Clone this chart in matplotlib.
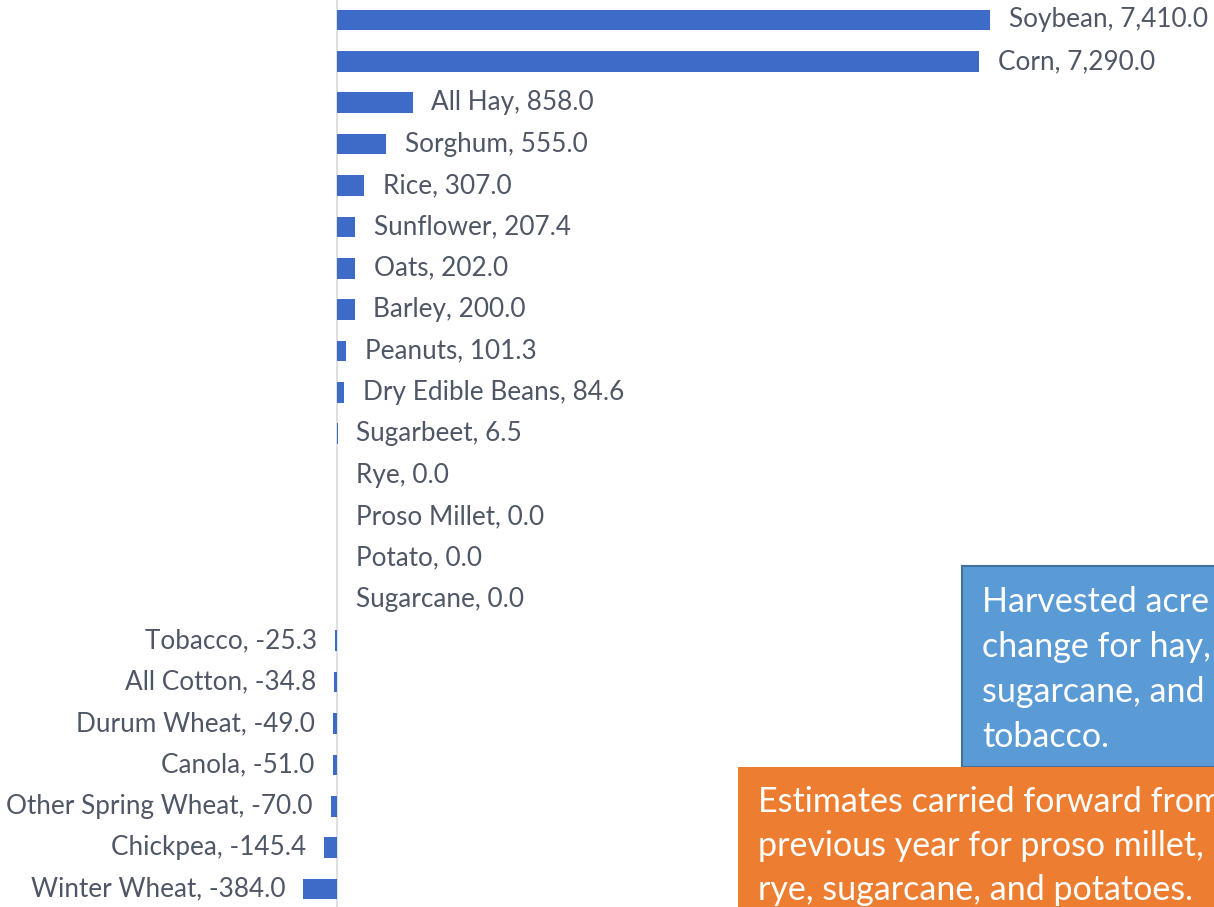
#!/usr/bin/env python3
"""Horizontal bar chart of acreage change by crop, with two note boxes."""
import matplotlib
matplotlib.use("Agg")
import matplotlib.pyplot as plt
from matplotlib.patches import Rectangle

# ---------------------------------------------------------------------------
# Data
# ---------------------------------------------------------------------------
crops = [
    "Soybean", "Corn", "All Hay", "Sorghum", "Rice", "Sunflower", "Oats",
    "Barley", "Peanuts", "Dry Edible Beans", "Sugarbeet", "Rye",
    "Proso Millet", "Potato", "Sugarcane", "Tobacco", "All Cotton",
    "Durum Wheat", "Canola", "Other Spring Wheat", "Chickpea", "Winter Wheat",
]
change = [
    7410.0, 7290.0, 858.0, 555.0, 307.0, 207.4, 202.0,
    200.0, 101.3, 84.6, 6.5, 0.0,
    0.0, 0.0, 0.0, -25.3, -34.8,
    -49.0, -51.0, -70.0, -145.4, -384.0,
]

blue_note = ["Harvested acre", "change for hay,", "sugarcane, and", "tobacco."]
orange_note = ["Estimates carried forward from",
               "previous year for proso millet,",
               "rye, sugarcane, and potatoes."]

# ---------------------------------------------------------------------------
# Figure
# ---------------------------------------------------------------------------
W, H = 1214, 907
plt.rcParams["font.family"] = ["Lato", "DejaVu Sans"]
fig = plt.figure(figsize=(W / 100, H / 100), dpi=100)
ax = fig.add_axes([0, 0, 1, 1])

bar_color = "#3E6BC8"
text_color = "#4F5766"

ypos = list(range(len(crops)))
ax.barh(ypos, change, height=0.5, color=bar_color, edgecolor="none", zorder=2)

# axis scaling: zero at x=337px, 7410 at x=990px
px_per_unit = (990 - 337) / 7410.0
ax.set_xlim(-337 / px_per_unit, (W - 337) / px_per_unit)
row = (889 - 20) / 21.0
ax.set_ylim(21 + (H - 889) / row, -20 / row)

ax.axvline(0, color="#D9D9D9", lw=1.2, zorder=1)

for y, name, v in zip(ypos, crops, change):
    label = f"{name}, {v:,.1f}"
    if v >= 0:
        ax.annotate(label, (v, y), xytext=(13.5, 0), textcoords="offset points",
                    ha="left", va="center", fontsize=18.8, color=text_color)
    else:
        ax.annotate(label, (v, y), xytext=(-13, 0), textcoords="offset points",
                    ha="right", va="center", fontsize=18.8, color=text_color)

ax.axis("off")

# ---------------------------------------------------------------------------
# Note boxes (run off the right / bottom edge as in the reference)
# ---------------------------------------------------------------------------
def px(x, y):
    return x / W, 1 - y / H

x0, y0 = px(962, 767)
fig.patches.append(Rectangle((x0, y0), (W + 20 - 962) / W, (767 - 566) / H,
                             transform=fig.transFigure, facecolor="#5B9BD5",
                             edgecolor="#41719C", lw=1.5, zorder=3))
for i, line in enumerate(blue_note):
    tx, ty = px(982, 602 + i * 45)
    fig.text(tx, ty, line, fontsize=24.5, color="white", va="center",
             ha="left", zorder=4)

x0, y0 = px(738, H + 20)
fig.patches.append(Rectangle((x0, y0), (W + 20 - 738) / W, (H + 20 - 767) / H,
                             transform=fig.transFigure, facecolor="#ED7D31",
                             edgecolor="none", zorder=5))
for i, line in enumerate(orange_note):
    tx, ty = px(758, 802 + i * 44)
    fig.text(tx, ty, line, fontsize=24.5, color="white", va="center",
             ha="left", zorder=6)

fig.savefig("out.png", dpi=100)
